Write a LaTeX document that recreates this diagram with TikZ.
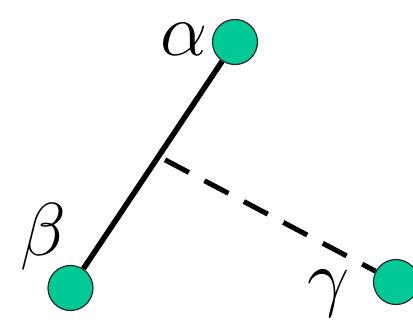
\documentclass[tikz,border=0pt]{standalone}
\usepackage{fix-cm}
\definecolor{dotgreen}{RGB}{0,200,150}
\definecolor{dotrim}{RGB}{40,40,40}
\usetikzlibrary{backgrounds,calc}

\begin{document}
\begin{tikzpicture}[x=1pt,y=-1pt]
  \tikzset{
    dot/.style={circle,draw=dotrim,line width=1.2pt,fill=dotgreen,minimum size=45pt,inner sep=0pt},
    greek/.style={anchor=base,inner sep=0pt,font=\fontsize{75}{75}\selectfont}
  }
  \useasboundingbox (0,0) rectangle (413,324);
  \node[dot] (alpha) at (235,42) {};
  \node[dot] (beta) at (70.5,288) {};
  \node[dot] (gamma) at (396,282) {};
  \node[greek] (la) at (184,55) {$\alpha$};
  \node[greek] (lb) at (43,255) {$\beta$};
  \node[greek] (lc) at (329,302) {$\gamma$};
  \coordinate (foot) at ($(alpha)!0.465!(beta)$);
  \begin{pgfonlayer}{background}
    \draw[line width=5.5pt] (alpha) -- (beta);
    \draw[line width=5pt,dash pattern=on 27pt off 17.6pt,dash phase=37.2pt] (foot) -- (gamma);
  \end{pgfonlayer}
\end{tikzpicture}
\end{document}
